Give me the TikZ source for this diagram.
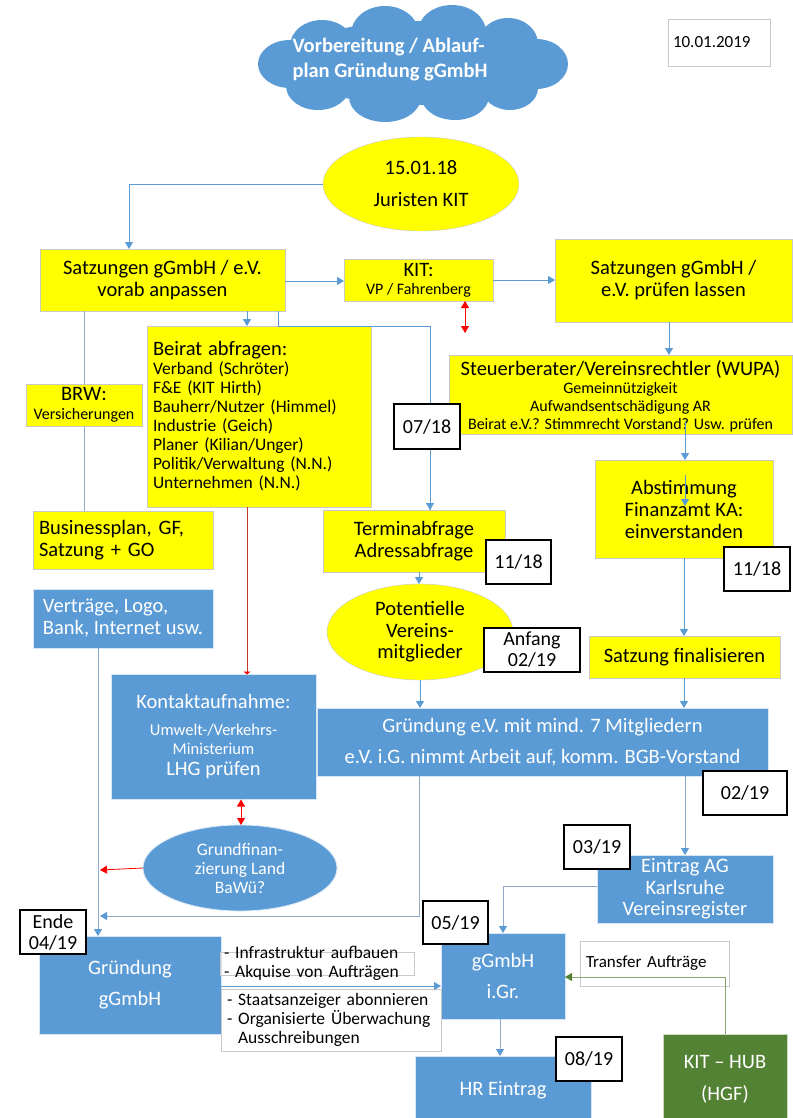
\documentclass[tikz,border=0pt]{standalone}
\usepackage{fontspec}
\setmainfont{Carlito}
\usetikzlibrary{shapes.geometric,arrows.meta}
\definecolor{ylw}{HTML}{FFFF00}
\definecolor{blu}{HTML}{5B9BD5}
\definecolor{grn}{HTML}{548235}
\definecolor{lin}{HTML}{5B9BD5}
\definecolor{lgr}{HTML}{8FA9CC}
\definecolor{edg}{HTML}{C9C9C9}
\definecolor{dred}{HTML}{C0392B}
\newcommand\fs[2]{\fontsize{#1}{#2}\selectfont}

\begin{document}
\begin{tikzpicture}[x=1pt,y=-1pt,
  every node/.style={inner sep=0pt, outer sep=0pt},
  sz/.style 2 args={minimum width=#1, minimum height=#2},
  ybox/.style={rectangle, fill=ylw, draw=edg, line width=0.6pt, align=center},
  bbox/.style={rectangle, fill=blu, draw=white!75!blu, line width=0.8pt, text=white, align=center},
  dbox/.style={rectangle, fill=white, draw=black, line width=1.3pt, align=center, font=\fs{20}{21}},
  tbox/.style={draw=edg, line width=0.6pt},
  tip/.style={-{Triangle[length=7pt,width=8pt]}},
  conn/.style={draw=lin, line width=0.8pt, tip},
  gconn/.style={draw=lgr, line width=0.8pt, -{Triangle[length=7pt,width=8pt,color=lin]}},
  plain/.style={draw=lgr, line width=0.8pt},
  redarr/.style={draw=red, line width=0.8pt, {Triangle[length=7pt,width=8pt]}-{Triangle[length=7pt,width=8pt]}},
  redone/.style={draw=red, line width=0.8pt, tip},
  puff/.style={fill=blu},
]
\useasboundingbox[fill=white] (0,0) rectangle (792,1118);

% title cloud built from overlapping puffs
\fill[puff] (413,63) ellipse [x radius=122, y radius=42];
\fill[puff] (290,64) ellipse [x radius=32, y radius=24];
\fill[puff] (322,46) ellipse [x radius=32, y radius=26];
\fill[puff] (385,34) ellipse [x radius=34, y radius=28];
\fill[puff] (452,32) ellipse [x radius=34, y radius=27];
\fill[puff] (508,44) ellipse [x radius=30, y radius=26];
\fill[puff] (536,64) ellipse [x radius=32, y radius=25];
\fill[puff] (510,88) ellipse [x radius=28, y radius=22];
\fill[puff] (455,96) ellipse [x radius=34, y radius=24];
\fill[puff] (385,97) ellipse [x radius=36, y radius=25];
\fill[puff] (318,86) ellipse [x radius=32, y radius=24];
\node[text=white, font=\bfseries\fs{20.5}{25}, align=left] (title) at (390,60)
  {Vorbereitung / Ablauf-\\plan Gründung gGmbH};
\node[rectangle, draw=edg, line width=0.6pt, font=\fs{17}{20}, align=left, text width=92, sz={102}{47}] (date) at (719,42.5) {10.01.2019};

% upper block
\node[ellipse, fill=ylw, draw=edg, font=\fs{20.5}{32}, align=center, sz={196}{94}] (start) at (421,184)
  {15.01.18\\Juristen KIT};
\node[ybox, font=\fs{20.5}{22}, sz={245}{62}] (anpassen) at (162.5,280) {Satzungen gGmbH / e.V.\\vorab anpassen};
\node[ybox, font=\fs{16}{18}, sz={149}{42}] (kit) at (418.5,280) {{\fs{20.5}{18}KIT:}\\VP / Fahrenberg};
\node[ybox, font=\fs{20.5}{22}, sz={237}{83}] (pruefen) at (673.5,280.5) {Satzungen gGmbH /\\e.V. prüfen lassen};
\node[ybox, font=\fs{16}{18}, sz={343}{79}, text depth=0pt] (steuer) at (620.5,394.5)
  {{\fs{20.5}{19}Steuerberater/Vereinsrechtler (WUPA)}\\Gemeinnützigkeit\\Aufwandsentschädigung AR\\Beirat e.V.? Stimmrecht Vorstand? Usw. prüfen};
\node[ybox, align=left, text width=212, sz={224}{181}, font=\fs{17.5}{19}] (beirat) at (259,416.5)
  {{\fs{20.5}{20}Beirat abfragen:}\\Verband (Schröter)\\F\&E (KIT Hirth)\\Bauherr/Nutzer (Himmel)\\Industrie (Geich)\\Planer (Kilian/Unger)\\Politik/Verwaltung (N.N.)\\Unternehmen (N.N.)};
\node[ybox, font=\fs{20.5}{22}, sz={178}{98}] (finanzamt) at (684,509) {Abstimmung\\Finanzamt KA:\\einverstanden};
\node[ybox, align=left, text width=168, sz={180}{58}, font=\fs{20.5}{22}] (bplan) at (123,540) {Businessplan, GF,\\Satzung + GO};
\node[ybox, font=\fs{20.5}{22}, sz={182}{62}] (termin) at (414,541) {Terminabfrage\\Adressabfrage};
\node[ellipse, fill=ylw, draw=edg, font=\fs{20.5}{21.5}, align=center, sz={186}{96}] (mitglieder) at (420,632)
  {Potentielle\\Vereins-\\mitglieder};
\node[ybox, font=\fs{20.5}{22}, sz={191}{42}] (final) at (684.5,657) {Satzung finalisieren};

% blue block
\node[bbox, align=left, sz={180}{59}, font=\fs{20.5}{22}] (vertraege) at (123,618.5) {Verträge, Logo,\\Bank, Internet usw.};
\node[bbox, sz={205}{125}, font=\fs{16.5}{19}] (kontakt) at (213.5,737)
  {{\fs{20.5}{22}Kontaktaufnahme:}\\[8pt]Umwelt-/Verkehrs-\\Ministerium\\[2pt]{\fs{20.5}{22}LHG prüfen}};
\node[bbox, font=\fs{20.5}{31}, sz={451}{68}] (grev) at (542.5,742)
  {Gründung e.V. mit mind. 7 Mitgliedern\\e.V. i.G. nimmt Arbeit auf, komm. BGB-Vorstand};
\node[ellipse, fill=blu, draw=white!75!blu, line width=0.8pt, text=white, font=\fs{17.5}{19}, align=center, sz={194}{86}] (land) at (240,868)
  {Grundfinan-\\zierung Land\\BaWü?};
\node[bbox, font=\fs{20.5}{21.5}, sz={176}{68}] (eintrag) at (685,889) {Eintrag AG\\Karlsruhe\\Vereinsregister};
\node[bbox, font=\fs{20.5}{31}, sz={182}{98}] (gruendung) at (130,985) {Gründung\\gGmbH};
\node[bbox, font=\fs{20.5}{31}, sz={124}{86}] (igr) at (503,976) {gGmbH\\i.Gr.};
\node[rectangle, draw=edg, line width=0.6pt, fill=white, align=left, text width=137, sz={149}{45}, font=\fs{17}{20}] (transfer) at (654.5,963.5) {Transfer Aufträge};
\draw[tbox] (220,952) rectangle (414,975);
\node[font=\fs{17.5}{19}, align=left, text width=190] (aufgaben) at (319,963.5) {- Infrastruktur aufbauen\\- Akquise von Aufträgen};
\node[rectangle, draw=edg, line width=0.6pt, fill=white, align=left, text width=208, sz={220}{62}, font=\fs{17.5}{19}] (ueberwachung) at (331,1020)
  {- Staatsanzeiger abonnieren\\- Organisierte Überwachung\\\hspace*{11pt}Ausschreibungen};
\node[bbox, font=\fs{20.5}{22}, sz={176}{68}] (hr) at (503,1090) {HR Eintrag};
\node[rectangle, fill=grn, draw=white!70!grn, line width=0.8pt, text=white, font=\fs{20.5}{32}, align=center, sz={124}{91}] (hub) at (725,1079.5) {KIT – HUB\\(HGF)};

% free ends and bends
\coordinate (joinA) at (100,916);
\coordinate (joinB) at (100,870);
\coordinate (stIn) at (685,421);
\coordinate (faIn) at (685,475);
\coordinate (faOut) at (685,506);

% connectors
\draw[conn] (start.west) -| (129,0 |- anpassen.north);
\draw[conn] (anpassen.east |- 0,281) -- (kit.west |- 0,281);
\draw[conn] (kit.east) -- (kit.east -| pruefen.west);
\draw[redarr] (465,0 |- kit.south) -- (465,333);
\draw[conn] (669,0 |- pruefen.south) -- (669,0 |- steuer.north);
\draw[conn] (stIn) -- (685,0 |- finanzamt.north);
\draw[conn] (faIn) -- (faOut);
\draw[conn] (finanzamt.south) -- (684,0 |- final.north);
\draw[conn] (684,0 |- final.south) -- (684,0 |- grev.north);
\draw[conn] (247,0 |- anpassen.south) -- (247,0 |- beirat.north);
\draw[plain, draw=lin] (278,0 |- anpassen.south) |- (430,0 |- beirat.north) -- (430,0 |- termin.north);
\draw[conn] (430,480) -- (430,0 |- termin.north);
\draw[plain] (84,0 |- anpassen.south) -- (84,0 |- bplan.north);
\draw[draw=dred, line width=0.8pt, -{Triangle[length=3pt,width=7pt,color=red]}] (247,0 |- beirat.south) -- (247,0 |- kontakt.north);
\draw[conn] (419,0 |- termin.south) -- (419,0 |- mitglieder.north);
\draw[conn] (mitglieder.south) -- (mitglieder.south |- grev.north);
\draw[gconn] (685,0 |- grev.south) -- (685,0 |- eintrag.north);
\draw[gconn] (419,0 |- grev.south) |- (joinA);
\draw[gconn] (98,0 |- vertraege.south) -- (98,0 |- gruendung.north);
\draw[redarr] (241,0 |- kontakt.south) -- (241,0 |- land.north);
\draw[redone] (land.west) -- (joinB);
\draw[gconn] (eintrag.west |- 0,886) -| (503,0 |- igr.north);
\draw[conn] (gruendung.east |- 0,986) -- (igr.west |- 0,986);
\draw[gconn] (500,0 |- igr.south) -- (500,0 |- hr.north);
\draw[draw=grn!70!white, line width=0.8pt, -{Triangle[length=7pt,width=8pt,color=grn]}] (725,0 |- hub.north) |- (igr.east |- 0,977);

% overlays: BRW and dates
\node[ybox, sz={116}{42}, font=\fs{16}{19}] (brw) at (84,405) {{\fs{20.5}{19}BRW:}\\Versicherungen};
\node[dbox, sz={66}{45}] (m0718) at (427,426.5) {07/18};
\node[dbox, sz={65}{44}] (m1118a) at (518.5,562) {11/18};
\node[dbox, sz={66}{44}] (m1118b) at (757,569) {11/18};
\node[dbox, sz={96}{44}] (m0219a) at (532,650) {Anfang\\02/19};
\node[dbox, sz={84}{44}] (m0219b) at (745,793) {02/19};
\node[dbox, sz={66}{44}] (m0319) at (597,847) {03/19};
\node[dbox, sz={66}{44}] (m0419) at (53,932) {Ende\\04/19};
\node[dbox, sz={65}{43}] (m0519) at (455.5,922.5) {05/19};
\node[dbox, sz={66}{44}] (m0819) at (589,1059) {08/19};
\end{tikzpicture}
\end{document}
